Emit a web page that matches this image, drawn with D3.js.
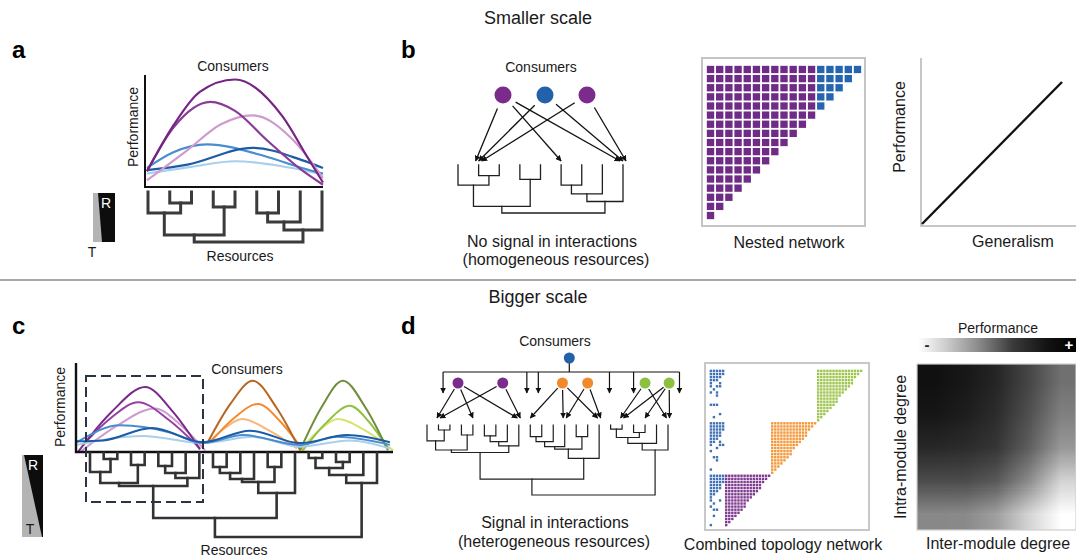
<!DOCTYPE html>
<html><head><meta charset="utf-8">
<script src="https://cdn.jsdelivr.net/npm/d3@7/dist/d3.min.js"></script>
<style>
html,body{margin:0;padding:0;background:#fff;}
svg{display:block;font-family:"Liberation Sans",Arial,Helvetica,sans-serif;}
</style></head><body>
<svg id="fig" width="1076" height="557"></svg>
<script>
// ---------------- data ----------------
// Resource phylogenies: [height, left, right]; plain numbers are leaf indices.
const treeSmall = [50, [43, [21, 0, [11, 1, 2]], [15, 3, 4]], [38, [30, [21, 5, 6], 7], 8]];
const treeBig = [84,
  [65,
    [33, [30, [19, 0, [6, 1, 2]], [12, 3, 4]], [25, [20, [13, 5, 6], 7], 8]],
    [40, [29, [26, [20, [14, 9, 10], 11], 12], [14, 13, 14]], 15]],
  [30, [22, [15, [5, 16, 17], [9, 18, 19]], 20], 21]];

// Panel a: consumer performance along the resource gradient (x 0..1, performance 0..1)
const smallCurves = [
  [[0,0.12],[0.25,0.18],[0.5,0.23],[0.75,0.19],[1,0.11]],
  [[0,0.17],[0.15,0.31],[0.34,0.38],[0.68,0.27],[0.88,0.17],[1,0.12]],
  [[0,0.15],[0.23,0.2],[0.6,0.35],[0.88,0.24],[1,0.17]],
  [[0,0.06],[0.23,0.33],[0.42,0.56],[0.6,0.64],[0.83,0.42],[1,0.08]],
  [[0,0.14],[0.15,0.53],[0.36,0.76],[0.5,0.68],[0.68,0.42],[0.88,0.15],[1,0.02]],
  [[0,0.14],[0.15,0.55],[0.3,0.85],[0.5,0.96],[0.77,0.63],[0.91,0.27],[1,0.04]]
];

// Panel c: module specialists (x 0..100 along resources, performance 0..1)
const bigHumps = [
  [[1.3,0],[13.1,0.3],[24.9,0.49],[32.8,0.31],[40.7,0.02]],
  [[2.2,0.08],[10.9,0.38],[19.6,0.56],[29.3,0.36],[39.1,0.04]],
  [[0.6,0],[11.2,0.45],[21.8,0.73],[30.4,0.46],[39.1,0.03]],
  [[41.6,0.1],[47,0.27],[52.4,0.37],[61,0.24],[69.7,0.04]],
  [[42.3,0.11],[49.8,0.38],[57.4,0.54],[64.5,0.34],[71.6,0.02]],
  [[41.6,0.11],[48.7,0.54],[55.8,0.8],[63.2,0.5],[70.7,0.02]],
  [[70.7,0.02],[76.6,0.24],[82.6,0.37],[91.3,0.24],[100,0.02]],
  [[71.6,0.02],[79,0.33],[86.4,0.52],[92.4,0.34],[98.4,0.04]],
  [[70.7,0.02],[77.4,0.5],[84.2,0.8],[91.3,0.5],[98.4,0.02]]
];
// Panel c: generalists spanning all modules
const bigWaves = [
  [[0.3,0.08],[21.1,0.18],[40,0.1],[55.8,0.17],[70.7,0.06],[86.4,0.13],[99,0.04]],
  [[0.3,0.11],[13.9,0.3],[29.7,0.22],[40,0.1],[52.7,0.19],[70.7,0.08],[82.3,0.17],[99,0.08]],
  [[0.3,0.12],[8.5,0.13],[24,0.27],[40,0.11],[54.9,0.24],[70.7,0.1],[85.5,0.19],[99,0.11]]
];

// Panel b: consumers and the resources they use
const consumersSmall = ["P1", "B", "P2"];
const linksSmall = [["P1",1],["P1",5],["P1",8],["B",1],["B",8],["P2",1],["P2",8]];

// Panel b: nested matrix, cells per row
const nestedSpecialist = [12,12,12,12,12,12,11,10,9,8,7,6,5,4,3,2,1];
const nestedGeneralist = [5,4,3,2,1,0,0,0,0,0,0,0,0,0,0,0,0];

// Panel b: performance vs generalism
const generalism = [0, 1];
const performanceLine = [0, 1];

// Panel d: consumers positioned along the resource leaves
const consumersBigIds = ["G0","P1","P2","O1","O2","G1","G2"];
const consumersBigSlot = [12.4, 2.7, 6.6, 11.8, 14.0, 19.0, 21.1];
const consumersBigTier = [0, 1, 1, 1, 1, 1, 1];
const generalistDrops = [1.4, 8.7, 9.7, 15.9, 18.0, 22.0];
const linksBig = [["P1",1],["P1",4],["P1",8],["P2",1],["P2",8],
                  ["O1",9],["O1",12],["O1",15],["O2",12],["O2",15],
                  ["G1",17],["G1",21],["G2",17],["G2",19],["G2",21]];

// Panel d: combined topology matrix
const moduleTriangleRows = [15,14,13,12,12,11,10,9,8,7,7,6,5,4,3,2,1];
const generalistRowsM3 = ["11111","11111","11110","11100","10010","10110","01000","10100","00100","00000","00000","11100","00000","00000","00010","01000","00000"];
const generalistRowsM2 = ["11111","11111","11111","11110","11110","11100","11010","10011","00100","10000","00000","01100","00100","00000","00000","10000","00000"];
const generalistRowsM1 = ["11111","11111","11111","11110","11110","11100","11000","10000","10010","01000","10000","01100","00000","01000","00000","00000","10000"];

// Panel d: performance surface (gray level, rows top->bottom, cols left->right)
const performanceGrid = [
  [16, 24, 38, 70, 112],
  [22, 30, 45, 80, 128],
  [40, 44, 55, 95, 152],
  [76, 76, 90, 140, 212],
  [136, 138, 160, 212, 255]
];
const colorbarStops = [[0,"#ffffff"],[0.18,"#cccccc"],[0.39,"#888888"],[0.6,"#3a3a3a"],[0.81,"#141414"],[1,"#000000"]];

// ---------------- styles ----------------
const smallCurveColors = ["#a8cfee","#4a8dcf","#1d5ba6","#cf9bcf","#8a3a98","#762585"];
const humpColors = ["#d09cd0","#983fa6","#792a8b","#f8b878","#f28a2e","#b8661f","#d8e46a","#8fc241","#6f8e3a"];
const waveColors = ["#a8cfee","#4a8dcf","#1d5ba6"];
const PURPLE = "#7a2b8b", BLUE = "#2162aa", ORANGE = "#f08a2c", GREEN = "#8cc03f";
const consumerColor = {P1: PURPLE, P2: PURPLE, B: BLUE, G0: BLUE, O1: ORANGE, O2: ORANGE, G1: GREEN, G2: GREEN};

// ---------------- drawing ----------------
const svg = d3.select("#fig");
const defs = svg.append("defs");
defs.append("marker").attr("id","arrow").attr("viewBox","0 0 10 10")
  .attr("refX",9).attr("refY",5).attr("markerWidth",6).attr("markerHeight",6)
  .attr("markerUnits","userSpaceOnUse").attr("orient","auto")
  .append("path").attr("d","M0,0L10,5L0,10z").attr("fill","#111");

function label(x, y, txt, size, opts = {}) {
  const t = svg.append("text").attr("x", x).attr("y", y)
    .attr("font-size", size).attr("fill", opts.fill || "#1a1a1a")
    .attr("text-anchor", opts.anchor || "middle").text(txt);
  if (opts.bold) t.attr("font-weight", "bold");
  if (opts.rotate) t.attr("transform", `rotate(-90,${x},${y})`);
  return t;
}

function drawTree(g, tree, xScale, yScale, stroke, width) {
  const root = d3.hierarchy(tree, d => Array.isArray(d) ? d.slice(1) : null);
  root.eachAfter(n => {
    if (n.children) {
      n.px = (n.children[0].px + n.children[1].px) / 2;
      n.py = yScale(n.data[0]);
    } else {
      n.px = xScale(n.data);
      n.py = yScale(0);
    }
  });
  const internal = root.descendants().filter(n => n.children);
  g.selectAll(null).data(internal).join("path")
    .attr("d", n => {
      const [c0, c1] = n.children;
      return `M${c0.px},${c0.py}V${n.py}H${c1.px}V${c1.py}`;
    })
    .attr("fill", "none").attr("stroke", stroke).attr("stroke-width", width)
    .attr("stroke-linejoin", "miter").attr("stroke-linecap", "square");
}

function drawArrows(g, links, srcPos, leafX, endY, r, sw) {
  // spread arrows converging on the same leaf
  const byLeaf = d3.group(links, l => l[1]);
  const items = links.map(l => {
    const grp = byLeaf.get(l[1]).slice().sort((a, b) => srcPos(a[0]).x - srcPos(b[0]).x);
    const k = grp.indexOf(l), n = grp.length;
    const s = srcPos(l[0]);
    const tx = leafX(l[1]) + (k - (n - 1) / 2) * 3, ty = endY;
    const dx = tx - s.x, dy = ty - s.y, len = Math.hypot(dx, dy);
    return {x1: s.x + dx / len * r, y1: s.y + dy / len * r, x2: tx, y2: ty};
  });
  g.selectAll(null).data(items).join("line")
    .attr("x1", d => d.x1).attr("y1", d => d.y1).attr("x2", d => d.x2).attr("y2", d => d.y2)
    .attr("stroke", "#111").attr("stroke-width", sw).attr("marker-end", "url(#arrow)");
}

function rtBox(x, y, w, h, grayTop, grayBottom, rPos, tPos) {
  const g = svg.append("g");
  g.append("rect").attr("x", x).attr("y", y).attr("width", w).attr("height", h).attr("fill", "#0d0d0d");
  g.append("path").attr("d", `M${x},${y}H${x + grayTop}L${x + grayBottom},${y + h}H${x}Z`).attr("fill", "#b4b4b4");
  label(rPos[0], rPos[1], "R", 14, {fill: "#fff"});
  label(tPos[0], tPos[1], "T", 14);
}

// titles and separator
label(538, 24, "Smaller scale", 18);
label(538, 303, "Bigger scale", 18);
svg.append("line").attr("x1", 0).attr("x2", 1076).attr("y1", 280).attr("y2", 280)
  .attr("stroke", "#8c8c8c").attr("stroke-width", 1.5);
label(12, 58, "a", 24, {bold: true, anchor: "start", fill: "#000"});
label(401, 58, "b", 24, {bold: true, anchor: "start", fill: "#000"});
label(12, 334, "c", 24, {bold: true, anchor: "start", fill: "#000"});
label(401, 334, "d", 24, {bold: true, anchor: "start", fill: "#000"});

// ===== panel a =====
{
  const x = d3.scaleLinear().domain([0, 1]).range([147, 323]);
  const y = d3.scaleLinear().domain([0, 1]).range([187, 75]);
  const line = d3.line().x(d => x(d[0])).y(d => y(d[1])).curve(d3.curveMonotoneX);
  const g = svg.append("g");
  g.selectAll(null).data(smallCurves).join("path")
    .attr("d", line).attr("fill", "none").attr("stroke-width", 2.2)
    .attr("stroke", (d, i) => smallCurveColors[i]);
  g.append("path").attr("d", `M${x(0) - 2},${y(1)}V${y(0)}H${x(1)}`)
    .attr("fill", "none").attr("stroke", "#111").attr("stroke-width", 2);
  label(233, 71, "Consumers", 14);
  label(138, 127, "Performance", 14, {rotate: true});
  const lx = d3.scalePoint().domain(d3.range(9)).range([148, 322]);
  const ly = d3.scaleLinear().domain([0, 50]).range([192, 242]);
  drawTree(svg.append("g"), treeSmall, lx, ly, "#3b3b3b", 3);
  label(240, 261, "Resources", 14);
  rtBox(93, 193, 22, 49, 5, 9, [106, 208], [92, 257]);
}

// ===== panel b: interaction scheme =====
{
  const cx = d3.scalePoint().domain(consumersSmall).range([503, 587]);
  const cy = 95, r = 8.5;
  const lx = d3.scalePoint().domain(d3.range(9)).range([458, 623]);
  const ly = d3.scaleLinear().domain([0, 50]).range([165, 213]);
  drawTree(svg.append("g"), treeSmall, lx, ly, "#1f1f1f", 1.3);
  drawArrows(svg.append("g"), linksSmall, id => ({x: cx(id), y: cy}), lx, 161, r + 6, 1.3);
  svg.append("g").selectAll(null).data(consumersSmall).join("circle")
    .attr("cx", d => cx(d)).attr("cy", cy).attr("r", r).attr("fill", d => consumerColor[d]);
  label(541, 72, "Consumers", 14);
  label(552, 247, "No signal in interactions", 16);
  label(556, 265, "(homogeneous resources)", 16);
}

// ===== panel b: nested network =====
{
  const n = nestedSpecialist.length;
  const bx = d3.scaleBand().domain(d3.range(17)).range([705, 863]).padding(0.2);
  const by = d3.scaleBand().domain(d3.range(n)).range([64, 221]).padding(0.2);
  svg.append("rect").attr("x", 702).attr("y", 58).attr("width", 163).attr("height", 168)
    .attr("fill", "#fff").attr("stroke", "#c4c4c4").attr("stroke-width", 2);
  const cells = [];
  nestedSpecialist.forEach((s, r) => {
    for (let c = 0; c < s; c++) cells.push({r, c, col: "#6e2c86"});
    for (let c = 0; c < nestedGeneralist[r]; c++) cells.push({r, c: s + c, col: "#2565ad"});
  });
  svg.append("g").selectAll(null).data(cells).join("rect")
    .attr("x", d => bx(d.c)).attr("y", d => by(d.r))
    .attr("width", bx.bandwidth()).attr("height", by.bandwidth())
    .attr("fill", d => d.col);
  label(789, 248, "Nested network", 16);
}

// ===== panel b: performance vs generalism =====
{
  const gx = d3.scaleLinear().domain([0, 1]).range([922, 1062]);
  const gy = d3.scaleLinear().domain([0, 1]).range([224, 82]);
  svg.append("path").attr("d", "M921,58V226H1076").attr("fill", "none")
    .attr("stroke", "#b5b5b5").attr("stroke-width", 1.5);
  svg.append("path").datum(d3.zip(generalism, performanceLine))
    .attr("d", d3.line().x(d => gx(d[0])).y(d => gy(d[1])))
    .attr("stroke", "#111").attr("stroke-width", 2.4).attr("fill", "none");
  label(905, 127, "Performance", 16, {rotate: true});
  label(1013, 247, "Generalism", 16);
}

// ===== panel c =====
{
  const x = d3.scaleLinear().domain([0, 100]).range([76, 393]);
  const y = d3.scaleLinear().domain([0, 1]).range([452, 363]);
  const line = d3.line().x(d => x(d[0])).y(d => y(d[1])).curve(d3.curveMonotoneX);
  const g = svg.append("g");
  g.selectAll(null).data(bigHumps).join("path")
    .attr("d", line).attr("fill", "none").attr("stroke-width", 2)
    .attr("stroke", (d, i) => humpColors[i]);
  g.selectAll(null).data(bigWaves).join("path").attr("class", "wave")
    .attr("d", line).attr("fill", "none").attr("stroke-width", 2)
    .attr("stroke", (d, i) => waveColors[i]);
  const lx = d3.scalePoint().domain(d3.range(22)).range([90, 377]);
  const ly = d3.scaleLinear().domain([0, 84]).range([453, 537]);
  drawTree(svg.append("g"), treeBig, lx, ly, "#333", 2.6);
  g.append("path").attr("d", `M${x(0)},${y(1)}V${y(0)}H${x(100)}`)
    .attr("fill", "none").attr("stroke", "#111").attr("stroke-width", 2.4);
  svg.append("rect").attr("x", 86).attr("y", 376).attr("width", 117).attr("height", 126)
    .attr("fill", "none").attr("stroke", "#2b3445").attr("stroke-width", 2)
    .attr("stroke-dasharray", "10,5");
  label(247, 374, "Consumers", 14);
  label(65, 407, "Performance", 14, {rotate: true});
  label(234, 555, "Resources", 14);
  rtBox(22, 455, 21, 82, 2, 20, [33, 470], [30, 534]);
}

// ===== panel d: interaction scheme =====
{
  const lx = d3.scaleLinear().domain([0, 21]).range([427, 668]);
  const ly = d3.scaleLinear().domain([0, 84]).range([425, 495]);
  drawTree(svg.append("g"), treeBig, lx, ly, "#1f1f1f", 1.2);
  const tierY = [358, 383];
  const pos = id => {
    const i = consumersBigIds.indexOf(id);
    return {x: lx(consumersBigSlot[i]), y: tierY[consumersBigTier[i]]};
  };
  const g = svg.append("g");
  // generalist bracket
  const top = pos("G0"), barY = 372;
  g.append("path").attr("d", `M${top.x},${top.y}V${barY}M${lx(generalistDrops[0])},${barY}H${lx(generalistDrops[generalistDrops.length - 1])}`)
    .attr("stroke", "#111").attr("stroke-width", 1.2).attr("fill", "none");
  g.selectAll(null).data(generalistDrops).join("line")
    .attr("x1", d => lx(d)).attr("x2", d => lx(d)).attr("y1", barY).attr("y2", 393)
    .attr("stroke", "#111").attr("stroke-width", 1.2).attr("marker-end", "url(#arrow)");
  drawArrows(g, linksBig, pos, lx, 418, 7, 1.2);
  g.selectAll(null).data(consumersBigIds).join("circle")
    .attr("cx", d => pos(d).x).attr("cy", d => pos(d).y).attr("r", 5.5)
    .attr("fill", d => consumerColor[d]);
  label(555, 346, "Consumers", 14);
  label(555, 528, "Signal in interactions", 16);
  label(554, 547, "(heterogeneous resources)", 16);
}

// ===== panel d: combined topology network =====
{
  const mx = d3.scaleBand().domain(d3.range(50)).range([709, 863]).padding(0.22);
  const my = d3.scaleBand().domain(d3.range(51)).range([369, 527]).padding(0.22);
  svg.append("rect").attr("x", 705).attr("y", 363).attr("width", 164).attr("height", 167)
    .attr("fill", "#fff").attr("stroke", "#c8c8c8").attr("stroke-width", 2);
  const modules = [
    {rowBlock: 0, colBlock: 2, color: "#a0c551", gen: generalistRowsM3},
    {rowBlock: 1, colBlock: 1, color: "#f3993c", gen: generalistRowsM2},
    {rowBlock: 2, colBlock: 0, color: "#7e3b90", gen: generalistRowsM1}
  ];
  const cells = [];
  modules.forEach(m => {
    moduleTriangleRows.forEach((len, r) => {
      for (let c = 0; c < len; c++) cells.push({r: m.rowBlock * 17 + r, c: 5 + m.colBlock * 15 + c, col: m.color});
    });
    m.gen.forEach((s, r) => s.split("").forEach((ch, c) => {
      if (ch === "1") cells.push({r: m.rowBlock * 17 + r, c, col: "#4272b6"});
    }));
  });
  svg.append("g").selectAll(null).data(cells).join("rect")
    .attr("x", d => mx(d.c)).attr("y", d => my(d.r))
    .attr("width", mx.bandwidth()).attr("height", my.bandwidth()).attr("fill", d => d.col);
  label(783, 550, "Combined topology network", 16);
}

// ===== panel d: performance surface =====
{
  const rows = performanceGrid.length, cols = performanceGrid[0].length;
  const cv = document.createElement("canvas");
  cv.width = cols; cv.height = rows;
  const ctx = cv.getContext("2d");
  const img = ctx.createImageData(cols, rows);
  performanceGrid.forEach((row, r) => row.forEach((v, c) => {
    const k = (r * cols + c) * 4;
    img.data[k] = img.data[k + 1] = img.data[k + 2] = v; img.data[k + 3] = 255;
  }));
  ctx.putImageData(img, 0, 0);
  svg.append("image").attr("href", cv.toDataURL()).attr("x", 917).attr("y", 364)
    .attr("width", 159).attr("height", 166).attr("preserveAspectRatio", "none");
  svg.append("rect").attr("x", 917).attr("y", 364).attr("width", 159).attr("height", 166)
    .attr("fill", "none").attr("stroke", "#cfcfcf").attr("stroke-width", 1.2);
  const grad = defs.append("linearGradient").attr("id", "cbar");
  grad.selectAll("stop").data(colorbarStops).join("stop")
    .attr("offset", d => d[0]).attr("stop-color", d => d[1]);
  svg.append("rect").attr("x", 918).attr("y", 338).attr("width", 158).attr("height", 14).attr("fill", "url(#cbar)");
  label(927, 350, "-", 15, {bold: true, fill: "#222"});
  label(1069, 350, "+", 15, {bold: true, fill: "#fff"});
  label(998, 333, "Performance", 14);
  label(906, 447, "Intra-module degree", 16, {rotate: true});
  label(998, 549, "Inter-module degree", 16);
}
</script>
</body></html>
